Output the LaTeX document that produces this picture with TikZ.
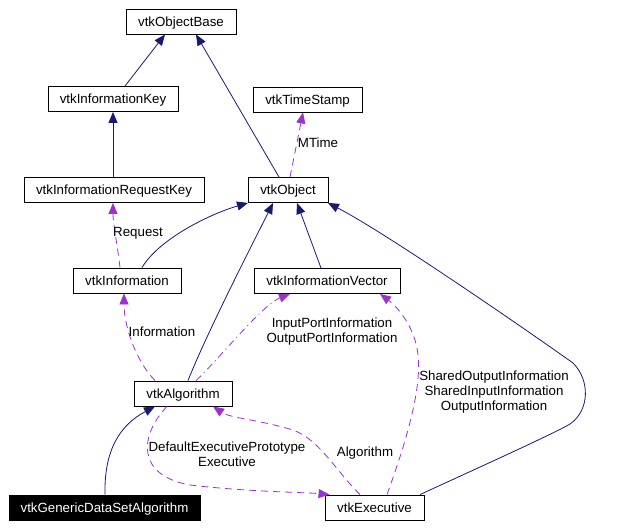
\documentclass[tikz,border=0pt]{standalone}
\usepackage{fontspec}
\setmainfont{Liberation Sans}
\usetikzlibrary{arrows.meta}
\definecolor{navyc}{HTML}{191970}
\definecolor{orch}{HTML}{9A32CD}
\begin{document}
\begin{tikzpicture}[x=1pt,y=-1pt,
  font=\fontsize{13.3}{15}\selectfont,
  cls/.style={draw=black, line width=0.9pt, inner sep=0pt, minimum height=25pt,
    text height=9.5pt, text depth=0pt},
  lbl/.style={align=center, inner sep=0pt},
  inherit/.style={navyc, line width=0.8pt, -{Triangle[length=11pt,width=9pt]}},
  uses/.style={orch, line width=0.8pt, dash pattern=on 7pt off 5pt, -{Triangle[length=11pt,width=9pt]}},
  usesdd/.style={orch, line width=0.8pt, dash pattern=on 7pt off 4pt on 1pt off 4pt, -{Triangle[length=11pt,width=9pt]}}]
\useasboundingbox (0,0) rectangle (623,527);
\fill[white] (0,0) rectangle (623,527);

\node[cls, minimum width=110pt] (ob) at (181,21.5) {vtkObjectBase};
\node[cls, minimum width=130pt] (ik) at (113,99) {vtkInformationKey};
\node[cls, minimum width=180pt] (irk) at (114,190) {vtkInformationRequestKey};
\node[cls, minimum width=80pt] (obj) at (288,190) {vtkObject};
\node[cls, minimum width=109pt] (ts) at (307.5,99.5) {vtkTimeStamp};
\node[cls, minimum width=108pt] (inf) at (127,280.5) {vtkInformation};
\node[cls, minimum width=146pt] (iv) at (327,281) {vtkInformationVector};
\node[cls, minimum width=98pt] (alg) at (183,393.5) {vtkAlgorithm};
\node[cls, fill=black, text=white, minimum width=191pt] (gdsa) at (104.5,507.5) {vtkGenericDataSetAlgorithm};
\node[cls, minimum width=99pt] (exe) at (374.5,507.5) {vtkExecutive};

% inheritance
\draw[inherit] ([xshift=12pt]ik.north) -- ([xshift=-16pt]ob.south);
\draw[inherit] ([xshift=-9pt]obj.north) -- ([xshift=15pt]ob.south);
\draw[inherit] ([xshift=-1pt]irk.north) -- (ik.south);
\draw[inherit] ([xshift=15pt]inf.north) .. controls +(18,-30) and +(-35,10) .. ([xshift=-40pt]obj.south);
\draw[inherit] ([xshift=5pt]alg.north) .. controls +(20,-50) and +(-20,40) .. ([xshift=-15pt]obj.south);
\draw[inherit] ([xshift=-6pt]iv.north) -- ([xshift=9pt]obj.south);
\draw[inherit] ([xshift=45.5pt]exe.north) .. controls (480,467) and (555,433) .. (570,424)
   .. controls (590,410) and (590,380) .. (573,363)
   .. controls (545,343) and (390,235) .. ([xshift=40pt]obj.south);
\draw[inherit] ([xshift=0.5pt]gdsa.north) .. controls (104,450) and (120,425) .. ([xshift=-28pt]alg.south);

% usage
\draw[uses] ([xshift=2pt]obj.north) -- ([xshift=-4.5pt]ts.south);
\node[lbl] (lmt) at (318,143) {MTime};
\draw[uses] ([xshift=-7pt]inf.north) .. controls +(-3,-25) and +(0,20) .. ([xshift=-1pt]irk.south);
\node[lbl] (lreq) at (138,233) {Request};
\draw[uses] ([xshift=-28pt]alg.north) .. controls (135,360) and (124,325) .. ([xshift=-3pt]inf.south);
\node[lbl] (linf) at (162,332) {Information};
\draw[usesdd] ([xshift=13pt]alg.north) .. controls (220,358) and (262,305) .. ([xshift=-37pt]iv.south);
\node[lbl] (lport) at (332,331.5) {InputPortInformation\\OutputPortInformation};
\draw[uses] ([xshift=-16pt]alg.south) .. controls (140,435) and (135,475) .. (190,485)
   .. controls (250,492) and (300,492) .. ([xshift=5pt]exe.north west);
\node[lbl] (ldef) at (227,454.5) {DefaultExecutivePrototype\\Executive};
\draw[uses] ([xshift=-14.5pt]exe.north) .. controls (335,470) and (320,440) .. (293,430)
   .. controls (260,420) and (230,418) .. ([xshift=30pt]alg.south);
\node[lbl] (lalg) at (365,453) {Algorithm};
\draw[uses] ([xshift=12.5pt]exe.north) .. controls (405,445) and (422,390) .. (418,355)
   .. controls (415,325) and (395,305) .. ([xshift=53pt]iv.south);
\node[lbl] (lsh) at (494,392) {SharedOutputInformation\\SharedInputInformation\\OutputInformation};
\end{tikzpicture}
\end{document}
